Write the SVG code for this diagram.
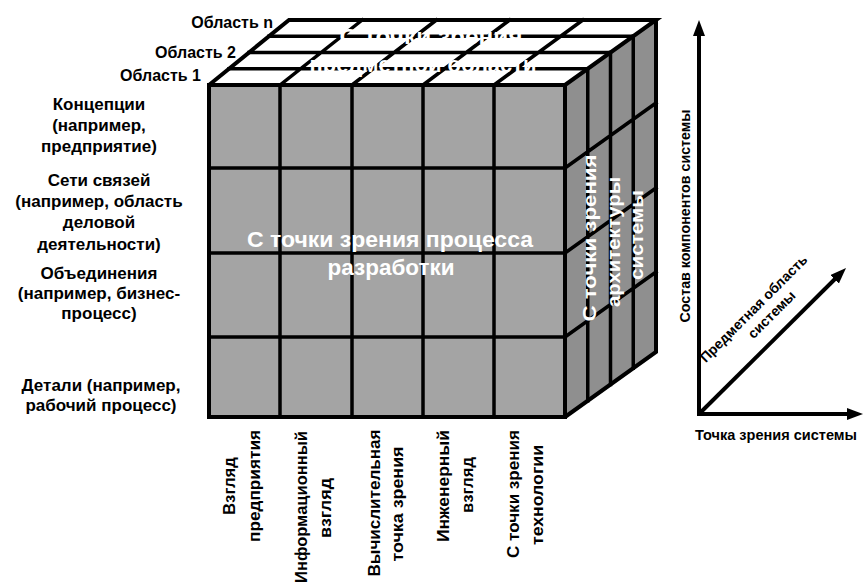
<svg xmlns="http://www.w3.org/2000/svg" width="864" height="586" viewBox="0 0 864 586">
<style>
text{font-family:"Liberation Sans",Arial,sans-serif;font-weight:bold;fill:#000}
.lbl{font-size:17px;text-anchor:middle}
.area{font-size:16px;text-anchor:end}
.bot{font-size:16px;text-anchor:middle}
.face{font-size:22px;fill:#fff;text-anchor:middle}
.side{font-size:18px;fill:#fff;text-anchor:middle}
.ax{font-size:14px;text-anchor:middle}
.grid{stroke:#000;stroke-width:3.5;fill:none;stroke-linecap:square}
.edge{stroke:#000;stroke-width:4;fill:none;stroke-linejoin:miter}
.axis{stroke:#000;stroke-width:4;fill:none}
</style>
<defs>
<marker id="arr" markerUnits="userSpaceOnUse" markerWidth="18" markerHeight="14" refX="4" refY="6" orient="auto">
<path d="M0,0 L16,6 L0,12 z" fill="#000"/>
</marker>
</defs>
<rect width="864" height="586" fill="#fff"/>

<g id="cube">
<g id="front-face">
<rect x="209" y="85" width="356" height="332" fill="#a4a4a4"/>
<path class="grid" d="M280,85V417M352,85V417M423,85V417M494,85V417M209,168H565M209,253H565M209,337H565"/>
</g>
<g id="top-face">
<polygon points="209,85 565,85 656,20 289,20" fill="#fff"/>
<path class="grid" d="M229,68.75H587.75M249,52.5H610.5M269,36.25H633.25M280,85L362.2,20M352,85L436.4,20M423,85L509.6,20M494,85L582.8,20"/>
</g>
<g id="right-face">
<polygon points="565,85 656,20 656,352 565,417" fill="#8f8f8f"/>
<path class="grid" d="M587.75,68.75V400.75M610.5,52.5V384.5M633.25,36.25V368.25M565,168L656,103M565,253L656,188M565,337L656,272"/>
</g>
<path class="edge" d="M209,85H565V417H209Z M209,85L289,20H656L565,85 M656,20V352L565,417"/>
</g>

<g id="face-texts">
<text class="face" x="431" y="44" textLength="183" lengthAdjust="spacingAndGlyphs">С точки зрения</text>
<text class="face" x="423" y="72" textLength="227" lengthAdjust="spacingAndGlyphs">предметной области</text>
<text class="face" x="390" y="247" textLength="286" lengthAdjust="spacingAndGlyphs">С точки зрения процесса</text>
<text class="face" x="391" y="275" textLength="127" lengthAdjust="spacingAndGlyphs">разработки</text>
<text class="side" transform="translate(596,238) rotate(-90)" textLength="167" lengthAdjust="spacingAndGlyphs">С точки зрения</text>
<text class="side" transform="translate(620,242) rotate(-90)" textLength="130" lengthAdjust="spacingAndGlyphs">архитектуры</text>
<text class="side" transform="translate(643,235) rotate(-90)" textLength="90" lengthAdjust="spacingAndGlyphs">системы</text>
</g>

<g id="area-labels">
<text class="area" x="273" y="28">Область n</text>
<text class="area" x="236" y="58">Область 2</text>
<text class="area" x="201" y="81">Область 1</text>
</g>

<g id="row-concepts">
<text class="lbl" x="99" y="110">Концепции</text>
<text class="lbl" x="99" y="131">(например,</text>
<text class="lbl" x="99" y="152">предприятие)</text>
</g>
<g id="row-networks">
<text class="lbl" x="99" y="186">Сети связей</text>
<text class="lbl" x="99" y="207">(например, область</text>
<text class="lbl" x="99" y="228">деловой</text>
<text class="lbl" x="99" y="250">деятельности)</text>
</g>
<g id="row-unions">
<text class="lbl" x="99" y="279">Объединения</text>
<text class="lbl" x="99" y="299">(например, бизнес-</text>
<text class="lbl" x="99" y="319">процесс)</text>
</g>
<g id="row-details">
<text class="lbl" x="101" y="391">Детали (например,</text>
<text class="lbl" x="101" y="411">рабочий процесс)</text>
</g>

<g id="col-enterprise">
<text class="bot" transform="translate(235,486) rotate(-90)" textLength="58" lengthAdjust="spacingAndGlyphs">Взгляд</text>
<text class="bot" transform="translate(260,486) rotate(-90)" textLength="112" lengthAdjust="spacingAndGlyphs">предприятия</text>
</g>
<g id="col-information">
<text class="bot" transform="translate(307,507) rotate(-90)" textLength="152" lengthAdjust="spacingAndGlyphs">Информационный</text>
<text class="bot" transform="translate(331,508) rotate(-90)" textLength="60" lengthAdjust="spacingAndGlyphs">взгляд</text>
</g>
<g id="col-computation">
<text class="bot" transform="translate(380,503) rotate(-90)" textLength="147" lengthAdjust="spacingAndGlyphs">Вычислительная</text>
<text class="bot" transform="translate(403,504) rotate(-90)" textLength="115" lengthAdjust="spacingAndGlyphs">точка зрения</text>
</g>
<g id="col-engineering">
<text class="bot" transform="translate(449,486) rotate(-90)" textLength="112" lengthAdjust="spacingAndGlyphs">Инженерный</text>
<text class="bot" transform="translate(473,485) rotate(-90)" textLength="56" lengthAdjust="spacingAndGlyphs">взгляд</text>
</g>
<g id="col-technology">
<text class="bot" transform="translate(519,494) rotate(-90)" textLength="128" lengthAdjust="spacingAndGlyphs">С точки зрения</text>
<text class="bot" transform="translate(543,495) rotate(-90)" textLength="100" lengthAdjust="spacingAndGlyphs">технологии</text>
</g>

<g id="connectors">
<line class="axis" x1="699" y1="416" x2="699" y2="32" marker-end="url(#arr)"/>
<line class="axis" x1="697" y1="414" x2="851" y2="414" marker-end="url(#arr)"/>
<line class="axis" x1="699" y1="414" x2="837.5" y2="276.5" marker-end="url(#arr)"/>
</g>

<g id="axis-labels">
<text class="ax" x="776" y="440" textLength="162" lengthAdjust="spacingAndGlyphs">Точка зрения системы</text>
<text class="ax" transform="translate(690,216) rotate(-90)" textLength="213" lengthAdjust="spacingAndGlyphs">Состав компонентов системы</text>
<text class="ax" transform="translate(757,312) rotate(-45)">Предметная область</text>
<text class="ax" transform="translate(775,318) rotate(-45)">системы</text>
</g>
</svg>
